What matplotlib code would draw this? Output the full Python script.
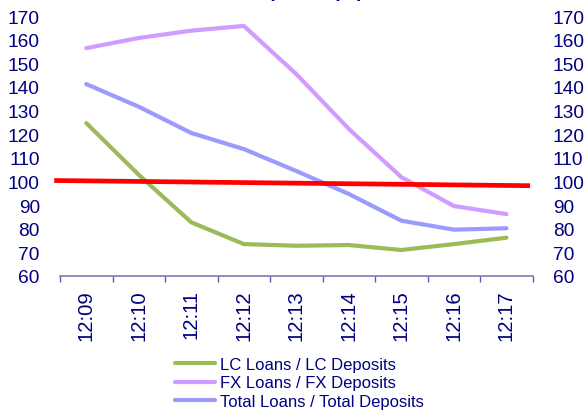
import matplotlib
matplotlib.use("Agg")
import matplotlib.pyplot as plt
import numpy as np

plt.rcParams['font.family'] = ['Liberation Sans', 'DejaVu Sans']

# Monthly ratios, %
periods = ["12:09", "12:10", "12:11", "12:12", "12:13", "12:14", "12:15", "12:16", "12:17"]
lc_ratio = [124.7, 102.8, 82.7, 73.5, 72.8, 73.1, 71.0, 73.5, 76.2]
fx_ratio = [156.4, 160.7, 163.8, 165.8, 145.4, 122.2, 101.8, 89.6, 86.2]
total_ratio = [141.2, 131.6, 120.5, 113.7, 104.4, 94.7, 83.4, 79.6, 80.2]

# 100% reference line (slightly tilted, drawn across the full width)
ref_x = [-0.61, 8.45]
ref_y = [100.4, 98.2]

series_labels = ["LC Loans / LC Deposits", "FX Loans / FX Deposits", "Total Loans / Total Deposits"]
series_colors = ["#9BBB59", "#D09CFF", "#9A9AFF"]
navy = "#000080"

y_ticks = list(range(60, 171, 10))

fig = plt.figure(figsize=(5.85, 4.14), dpi=100)
ax = fig.add_axes([60 / 585, 1 - 277 / 414, (532.7 - 60) / 585, (277 - 17) / 414])

x = np.arange(len(periods))
handles = []
for vals, lab, col in zip([lc_ratio, fx_ratio, total_ratio], series_labels, series_colors):
    h, = ax.plot(x, vals, color=col, lw=3.0, solid_capstyle='round', solid_joinstyle='round', label=lab, zorder=3)
    handles.append(h)

ax.plot(ref_x, ref_y, color="#FF0000", lw=3.4, clip_on=False, zorder=4, solid_capstyle='butt')

ax.set_xlim(-0.5, len(periods) - 0.5)
ax.set_ylim(60, 170)
ax.set_yticks(y_ticks)
ax.set_yticklabels([str(v) for v in y_ticks])

# category boundaries get tick marks, centres carry the labels
ax.set_xticks(np.arange(-0.5, len(periods), 1.0))
ax.set_xticklabels([])
ax.set_xticks(x, minor=True)
ax.set_xticklabels(periods, minor=True, rotation=90, color=navy, fontsize=14.6)
ax.tick_params(axis='x', which='major', length=4.5, width=1.0, color="#5A5AA0", direction='out')
ax.tick_params(axis='x', which='minor', length=0, pad=9.5)

ax.tick_params(axis='y', which='both', left=False, right=False, labelleft=True, labelright=True,
               labelsize=13.8, labelcolor=navy, pad=11)

for side in ['top', 'left', 'right']:
    ax.spines[side].set_visible(False)
ax.spines['bottom'].set_color("#7A7AB8")
ax.spines['bottom'].set_linewidth(1.2)

fig.text(268 / 585, 1 + 3 / 414, "Loans / Deposits (%)", ha='center', va='baseline',
         fontsize=14, fontweight='bold', color=navy)

leg = fig.legend(handles=handles, labels=series_labels, loc='upper left',
                 bbox_to_anchor=(175 / 585, 1 - 358 / 414), frameon=False,
                 fontsize=12, handlelength=2.4, handletextpad=0.3, labelspacing=0.2,
                 borderpad=0, borderaxespad=0)
for t in leg.get_texts():
    t.set_color(navy)
for lh in leg.get_lines():
    lh.set_linewidth(3.0)

fig.savefig("out.png", dpi=100)
